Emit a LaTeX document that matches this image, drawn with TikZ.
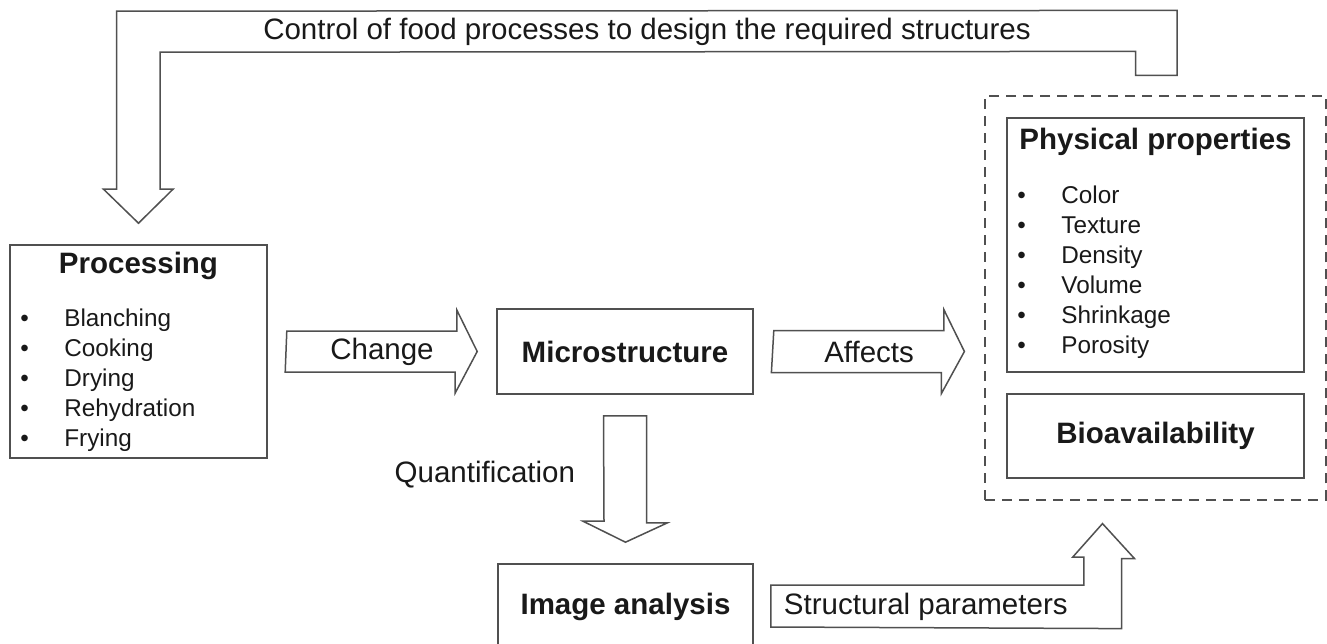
\documentclass[tikz,border=0pt]{standalone}
\usepackage{fontspec}
\setmainfont{Liberation Sans}
\usepackage{tikz}
\usetikzlibrary{positioning,calc,fit}
\definecolor{boxrule}{RGB}{80,80,80}
\definecolor{inktext}{RGB}{25,25,25}
\tikzset{
  panel/.style={rectangle,draw=boxrule,line width=1.6pt,inner sep=0pt,text=inktext},
  headtext/.style={font=\fontsize{29.5}{34}\selectfont\bfseries,text=inktext,inner sep=0pt},
  flowtext/.style={font=\fontsize{29.5}{34}\selectfont,text=inktext,inner sep=0pt},
  itemtext/.style={font=\fontsize{24.3}{30}\selectfont,text=inktext,align=left,inner sep=0pt},
  fatarrow/.style={draw=boxrule,line width=1.5pt,fill=white,line join=miter},
  groupbox/.style={draw=boxrule,line width=1.6pt,dash pattern=on 10pt off 7pt,inner sep=21pt}
}
\newcommand{\itm}[1]{\makebox[44pt][l]{\textbullet}#1}

\begin{document}
\begin{tikzpicture}[x=1pt,y=1pt]
  \useasboundingbox (0,0) rectangle (1327,-644);
  \node[panel,minimum width=257pt,minimum height=213pt] (proc) at (138.5,-351.5) {};
  \node[headtext] (proctitle) at ($(proc.north)+(0,-22)$) {Processing};
  \node[itemtext,anchor=north west] (proclist) at ($(proc.north west)+(11,-64)$)
    {\itm{Blanching}\\\itm{Cooking}\\\itm{Drying}\\\itm{Rehydration}\\\itm{Frying}};
  \node[panel,headtext,minimum width=256pt,minimum height=85pt] (micro) at (625,-351.5) {Microstructure};
  \node[panel,headtext,minimum width=255pt,minimum height=85pt] (imgan) at (625.5,-606.5) {Image analysis};
  \node[panel,minimum width=297pt,minimum height=254pt] (phys) at (1155.5,-245) {};
  \node[headtext] (phystitle) at ($(phys.north)+(0,-25)$) {Physical properties};
  \node[itemtext,anchor=north west] (physlist) at ($(phys.north west)+(11,-68)$)
    {\itm{Color}\\\itm{Texture}\\\itm{Density}\\\itm{Volume}\\\itm{Shrinkage}\\\itm{Porosity}};
  \node[panel,headtext,minimum width=297pt,minimum height=84pt] (bio) at (1155.5,-436) {Bioavailability};
  \node[groupbox,fit=(phys)(bio)] (group) {};

  \draw[fatarrow] ($(group.north)+(-20,20)$) -- ++(0,24) -- ($(proc.north)+(21.5,192)$) -- ++(0,-137)
    -- ++(13,0) -- ($(proc.north)+(0,21)$) -- ++(-35,34) -- ++(13,0) -- ++(0,178)
    -- ($(group.north)+(21.5,85)$) -- ++(0,-65) -- cycle;
  \node[flowtext] (ctrllbl) at ($(proc.north)!0.5!(group.north)+(0,138)$) {Control of food processes to design the required structures};

  \draw[fatarrow] ($(proc.east)+(19,20.5)$) -- ++(170,0) -- ++(0,21) -- ($(micro.west)+(-19,0)$)
    -- ++(-22,-41.5) -- ++(0,21) -- ++(-170,0) -- cycle;
  \node[flowtext] (changelbl) at ($(proc.east)!0.5!(micro.west)$) {Change};

  \draw[fatarrow] ($(micro.east)+(20,21)$) -- ++(170,0) -- ++(0,21) -- ($(micro.east -| group.west)+(-20,0)$)
    -- ++(-23,-42) -- ++(0,21) -- ++(-170,0) -- cycle;
  \node[flowtext] (affectslbl) at ($(micro.east)!0.5!(micro.east -| group.west)$) {Affects};

  \draw[fatarrow] ($(micro.south)+(-21.5,-21)$) -- ++(43,0) -- ++(0,-107) -- ++(21,0)
    -- ($(imgan.north)+(0,21)$) -- ++(-42.5,21) -- ++(21,0) -- cycle;
  \node[flowtext,anchor=east] (quantlbl) at ($(micro.south)!0.5!(imgan.north)+(-50,4)$) {Quantification};

  \draw[fatarrow] ($(imgan.east)+(17,21.5)$) -- ++(313,0) -- ++(0,28) -- ++(-11,0)
    -- ($(group.south)+(-53,-23)$) -- ++(32,-35) -- ++(-13,0) -- ++(0,-70)
    -- ($(imgan.east)+(17,-20.5)$) -- cycle;
  \node[flowtext] (structlbl) at ($(imgan.east)+(172,0)$) {Structural parameters};
\end{tikzpicture}
\end{document}
